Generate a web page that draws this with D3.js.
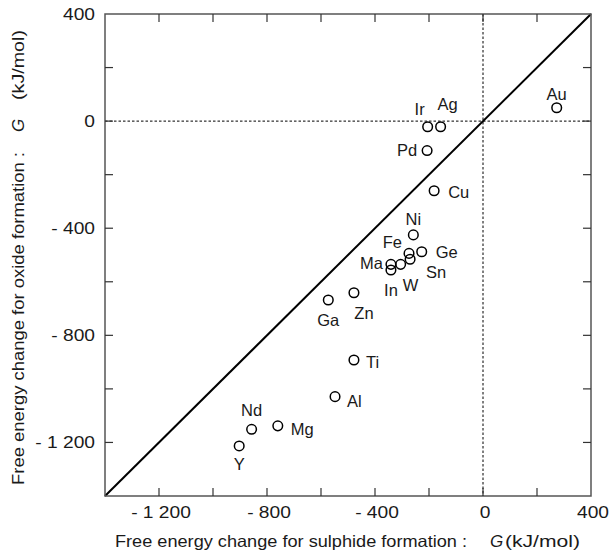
<!DOCTYPE html>
<html>
<head>
<meta charset="utf-8">
<script src="https://cdn.jsdelivr.net/npm/d3@7"></script>
<style>
  body { margin: 0; background: #fff; }
  text { font-family: 'Liberation Sans', Arial, sans-serif; fill: #1a1a1a; }
</style>
</head>
<body>
<div id="chart"></div>
<script>
// data (kJ/mol)
let elements = ['Au', 'Ir', 'Ag', 'Pd', 'Cu', 'Ni', 'Ge', 'Fe', 'Sn', 'W', 'Ma', 'In', 'Ga', 'Zn', 'Ti', 'Al', 'Mg', 'Nd', 'Y']
let sulphideG = [273, -205, -157, -207, -181, -258, -227, -274, -270, -305, -341, -341, -573, -478, -478, -548, -760, -857, -903]
let oxideG = [50, -21, -21, -110, -260, -425, -488, -494, -516, -535, -535, -556, -668, -641, -892, -1029, -1138, -1151, -1213]

let minorTicks = [-1200, -1000, -800, -600, -400, -200, 0, 200]
let labelTicks = [-1200, -800, -400, 0, 400]

// label placement relative to each marker: [dx, dy, anchor]
let labelPos = {
  Au: [0, -8, 'middle'], Ir: [-8, -12, 'middle'], Ag: [7, -17, 'middle'],
  Pd: [-10, 5, 'end'], Cu: [14, 7, 'start'], Ni: [0, -10, 'middle'],
  Ge: [14, 6, 'start'], Fe: [-7, -5, 'end'], Sn: [16, 19, 'start'],
  W: [10, 27, 'middle'], Ma: [-8, 5, 'end'], In: [0, 26, 'middle'],
  Ga: [0, 26, 'middle'], Zn: [10, 26, 'middle'], Ti: [12, 8, 'start'],
  Al: [12, 10, 'start'], Mg: [13, 9, 'start'], Nd: [0, -13, 'middle'],
  Y: [0, 24, 'middle']
}

let margin = { top: 14, left: 105, right: 19, bottom: 59 }
let width = 610 - margin.left - margin.right
let height = 555 - margin.top - margin.bottom

let svg = d3
  .select('#chart')
  .append('svg')
  .attr('width', 610)
  .attr('height', 555)
  .append('g')
  .attr('transform', `translate(${margin.left}, ${margin.top})`)

let xScale = d3.scaleLinear().domain([-1400, 400]).range([0, width])
let yScale = d3.scaleLinear().domain([-1400, 400]).range([height, 0])

function fmt(v) {
  let a = Math.abs(v)
  let s = a >= 1000 ? Math.floor(a / 1000) + ' ' + String(a % 1000).padStart(3, '0') : String(a)
  return v < 0 ? '- ' + s : s
}

// dotted zero lines
svg.append('line')
  .attr('x1', xScale(0)).attr('x2', xScale(0))
  .attr('y1', 0).attr('y2', height)
  .attr('stroke', '#000').attr('stroke-width', 1).attr('stroke-dasharray', '2.5,2')
svg.append('line')
  .attr('x1', 0).attr('x2', width)
  .attr('y1', yScale(0)).attr('y2', yScale(0))
  .attr('stroke', '#000').attr('stroke-width', 1).attr('stroke-dasharray', '2.5,2')

// diagonal  y = x
svg.append('line')
  .attr('x1', xScale(-1400)).attr('y1', yScale(-1400))
  .attr('x2', xScale(400)).attr('y2', yScale(400))
  .attr('stroke', '#000').attr('stroke-width', 2)

// frame
svg.append('rect')
  .attr('width', width).attr('height', height)
  .attr('fill', 'none').attr('stroke', '#555').attr('stroke-width', 1.5)

// inward ticks on all four sides
let tickLen = 8
minorTicks.forEach(t => {
  svg.append('line').attr('x1', xScale(t)).attr('x2', xScale(t)).attr('y1', height).attr('y2', height - tickLen)
    .attr('stroke', '#333').attr('stroke-width', 1.2)
  svg.append('line').attr('x1', xScale(t)).attr('x2', xScale(t)).attr('y1', 0).attr('y2', tickLen)
    .attr('stroke', '#333').attr('stroke-width', 1.2)
  svg.append('line').attr('y1', yScale(t)).attr('y2', yScale(t)).attr('x1', 0).attr('x2', tickLen)
    .attr('stroke', '#333').attr('stroke-width', 1.2)
  svg.append('line').attr('y1', yScale(t)).attr('y2', yScale(t)).attr('x1', width).attr('x2', width - tickLen)
    .attr('stroke', '#333').attr('stroke-width', 1.2)
})

// tick labels
svg.selectAll('.xlab')
  .data(labelTicks)
  .enter()
  .append('text')
  .attr('class', 'xlab')
  .attr('transform', d => `translate(${xScale(d) + 2}, ${height + 22}) scale(1.2, 1)`)
  .attr('text-anchor', 'middle')
  .attr('font-size', 16)
  .text(fmt)

svg.selectAll('.ylab')
  .data(labelTicks)
  .enter()
  .append('text')
  .attr('class', 'ylab')
  .attr('transform', d => `translate(-10, ${yScale(d) + 6}) scale(1.2, 1)`)
  .attr('text-anchor', 'end')
  .attr('font-size', 16)
  .text(fmt)

// points
let pts = elements.map((e, i) => ({ name: e, x: sulphideG[i], y: oxideG[i] }))

svg.selectAll('.pt')
  .data(pts)
  .enter()
  .append('circle')
  .attr('class', 'pt')
  .attr('cx', d => xScale(d.x))
  .attr('cy', d => yScale(d.y))
  .attr('r', 4.8)
  .attr('fill', 'none')
  .attr('stroke', '#000')
  .attr('stroke-width', 1.5)

svg.selectAll('.plab')
  .data(pts)
  .enter()
  .append('text')
  .attr('class', 'plab')
  .attr('x', d => xScale(d.x) + labelPos[d.name][0])
  .attr('y', d => yScale(d.y) + labelPos[d.name][1])
  .attr('text-anchor', d => labelPos[d.name][2])
  .attr('font-size', 16.5)
  .text(d => d.name)

// x axis title
let xt = d3.select('svg').append('g')
xt.append('text').attr('x', 115).attr('y', 547).attr('font-size', 16.5)
  .attr('textLength', 352).attr('lengthAdjust', 'spacingAndGlyphs')
  .text('Free energy change for sulphide formation :')
xt.append('text').attr('x', 490).attr('y', 547).attr('font-size', 17)
  .attr('font-family', "'Liberation Serif', serif").attr('font-style', 'italic')
  .text('G')
xt.append('text').attr('x', 505).attr('y', 547).attr('font-size', 16.5)
  .attr('textLength', 75).attr('lengthAdjust', 'spacingAndGlyphs')
  .text('(kJ/mol)')

// y axis title
let yt = d3.select('svg').append('g').attr('transform', 'translate(24, 0) rotate(-90)')
yt.append('text').attr('x', -485).attr('y', 0).attr('font-size', 16.5)
  .attr('textLength', 333).attr('lengthAdjust', 'spacingAndGlyphs')
  .text('Free energy change for oxide formation :')
yt.append('text').attr('x', -132).attr('y', 0).attr('font-size', 17)
  .attr('font-family', "'Liberation Serif', serif").attr('font-style', 'italic')
  .text('G')
yt.append('text').attr('x', -100).attr('y', 0).attr('font-size', 16.5)
  .attr('textLength', 70).attr('lengthAdjust', 'spacingAndGlyphs')
  .text('(kJ/mol)')
</script>
</body>
</html>
